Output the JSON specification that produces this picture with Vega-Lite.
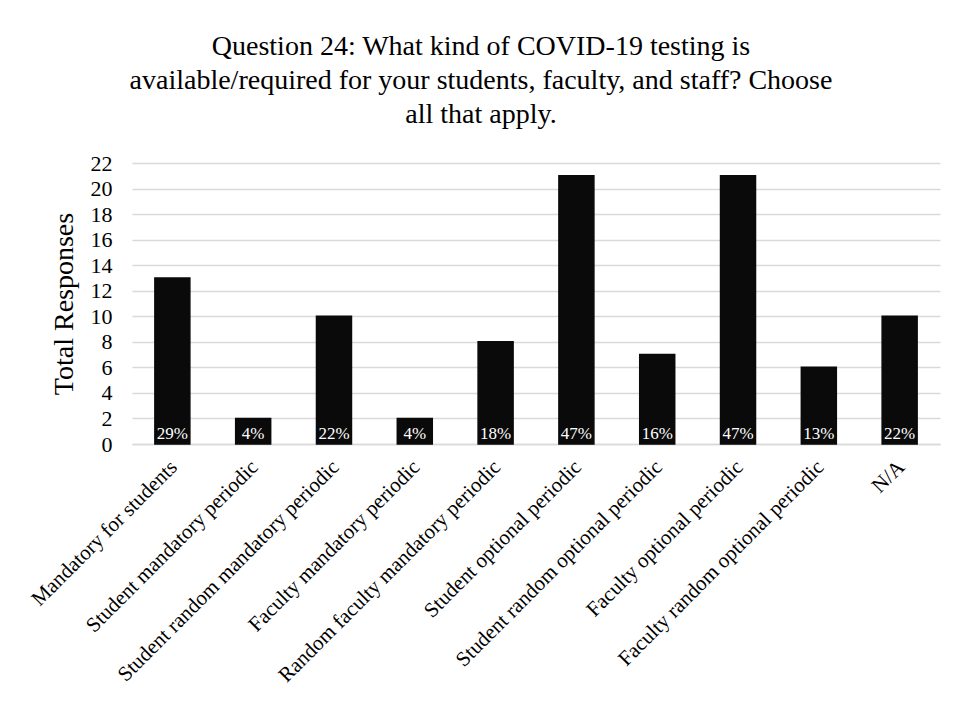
{
  "$schema": "https://vega.github.io/schema/vega-lite/v6.json",
  "width": 808,
  "height": 281,
  "autosize": {"type": "none"},
  "padding": {"left": 132, "top": 163, "right": 16, "bottom": 258},
  "background": "white",
  "title": {
    "text": ["Question 24: What kind of COVID-19 testing is", "available/required for your students, faculty, and staff? Choose", "all that apply."],
    "font": "Liberation Serif",
    "fontSize": 28,
    "fontWeight": "normal",
    "lineHeight": 34,
    "color": "#000000",
    "anchor": "middle",
    "frame": "group",
    "dx": -55,
    "offset": 23
  },
  "data": {
    "values": [
      {"option": "Mandatory for students", "responses": 13, "pct": "29%"},
      {"option": "Student mandatory periodic", "responses": 2, "pct": "4%"},
      {"option": "Student random mandatory periodic", "responses": 10, "pct": "22%"},
      {"option": "Faculty mandatory periodic", "responses": 2, "pct": "4%"},
      {"option": "Random faculty mandatory periodic", "responses": 8, "pct": "18%"},
      {"option": "Student optional periodic", "responses": 21, "pct": "47%"},
      {"option": "Student random optional periodic", "responses": 7, "pct": "16%"},
      {"option": "Faculty optional periodic", "responses": 21, "pct": "47%"},
      {"option": "Faculty random optional periodic", "responses": 6, "pct": "13%"},
      {"option": "N/A", "responses": 10, "pct": "22%"}
    ]
  },
  "encoding": {
    "x": {
      "field": "option",
      "type": "nominal",
      "sort": null,
      "scale": {"paddingInner": 0.567, "paddingOuter": 0.283},
      "axis": {
        "title": null,
        "labelAngle": -45,
        "labelFont": "Liberation Serif",
        "labelFontSize": 21,
        "labelColor": "#000000",
        "labelPadding": 12,
        "labelOffset": -6,
        "labelLimit": 400,
        "ticks": false,
        "domainColor": "#d9d9d9",
        "domainWidth": 1.5
      }
    }
  },
  "layer": [
    {
      "mark": {"type": "bar", "color": "#0a0a0a", "stroke": "#0a0a0a", "strokeWidth": 1.5},
      "encoding": {
        "y": {
          "field": "responses",
          "type": "quantitative",
          "scale": {"domain": [0, 22]},
          "axis": {
            "title": "Total Responses",
            "values": [0, 2, 4, 6, 8, 10, 12, 14, 16, 18, 20, 22]
          }
        }
      }
    },
    {
      "mark": {"type": "text", "color": "#ffffff", "font": "Liberation Serif", "fontSize": 17, "baseline": "bottom", "dy": -1},
      "encoding": {
        "y": {"datum": 0, "type": "quantitative", "axis": {"title": "Total Responses", "values": [0, 2, 4, 6, 8, 10, 12, 14, 16, 18, 20, 22]}},
        "text": {"field": "pct"}
      }
    }
  ],
  "config": {
    "view": {"stroke": null},
    "axisY": {
      "titleFont": "Liberation Serif",
      "titleFontSize": 28,
      "titleFontWeight": "normal",
      "titleColor": "#000000",
      "titlePadding": 12,
      "labelFont": "Liberation Serif",
      "labelFontSize": 22,
      "labelColor": "#000000",
      "labelPadding": 20,
      "labelOverlap": false,
      "ticks": false,
      "domain": false,
      "grid": true,
      "gridColor": "#d9d9d9",
      "gridWidth": 1.5
    }
  }
}
